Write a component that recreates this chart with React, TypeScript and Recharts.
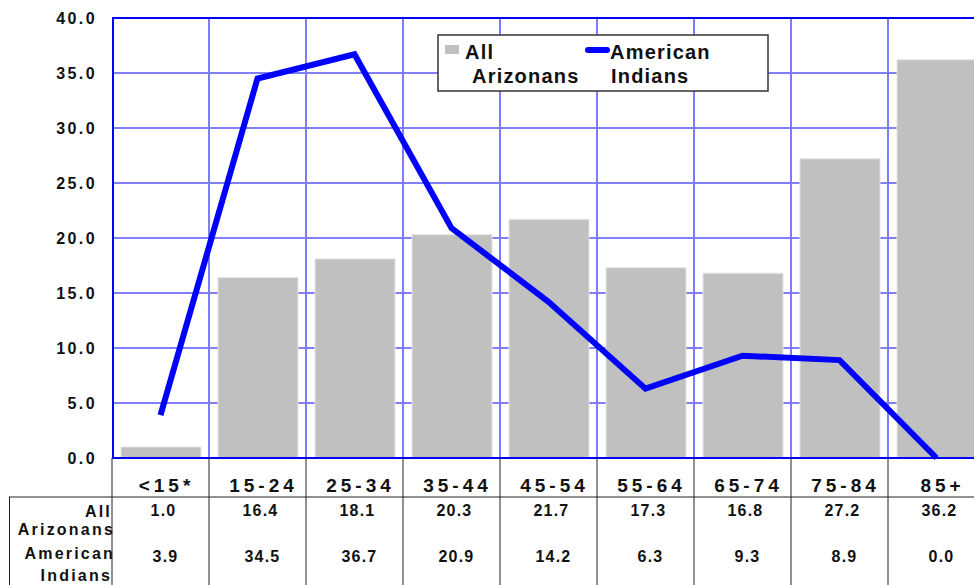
import React from "react";
import {
  Bar,
  CartesianGrid,
  ComposedChart,
  Line,
  ReferenceLine,
  XAxis,
  YAxis,
} from "recharts";

const AGE_GROUPS = ["<15*", "15-24", "25-34", "35-44", "45-54", "55-64", "65-74", "75-84", "85+"];
const ALL_ARIZONANS = [1.0, 16.4, 18.1, 20.3, 21.7, 17.3, 16.8, 27.2, 36.2];
const AMERICAN_INDIANS = [3.9, 34.5, 36.7, 20.9, 14.2, 6.3, 9.3, 8.9, 0.0];
const Y_TICKS = [0, 5, 10, 15, 20, 25, 30, 35, 40];

const SERIES_NAMES = { all: ["All", "Arizonans"], indian: ["American", "Indians"] };

const FONT = "'Liberation Sans', Arial, sans-serif";
const CHART_W = 1000;
const CHART_H = 585;
const Y_AXIS_W = 112;
const MARGIN_RIGHT = 15;
const X_AXIS_H = 127;
const PLOT_W = CHART_W - Y_AXIS_W - MARGIN_RIGHT;
const COL_W = PLOT_W / AGE_GROUPS.length;
const TABLE_LINE = "#222";

const data = AGE_GROUPS.map((group, i) => ({
  group,
  all: ALL_ARIZONANS[i],
  indian: AMERICAN_INDIANS[i],
}));

function YTick({ x, y, payload }: any) {
  return (
    <text
      x={x}
      y={y}
      dy={6}
      textAnchor="end"
      fontFamily={FONT}
      fontWeight="bold"
      fontSize={16}
      letterSpacing={2.4}
      fill="#111"
    >
      {Number(payload.value).toFixed(1)}
    </text>
  );
}

// category label plus the data table column underneath it
function XTick({ x, y, payload, index }: any) {
  const left = x - COL_W / 2;
  const textProps = {
    fontFamily: FONT,
    fontWeight: "bold" as const,
    fill: "#111",
    textAnchor: "middle" as const,
  };
  return (
    <g>
      <line x1={left} x2={left} y1={y} y2={CHART_H} stroke={TABLE_LINE} strokeWidth={1} />
      <text x={x + 6} y={y + 34} fontSize={19} letterSpacing={4} {...textProps}>
        {payload.value}
      </text>
      <text x={x + 3} y={y + 58} fontSize={16} letterSpacing={1.2} {...textProps}>
        {ALL_ARIZONANS[index].toFixed(1)}
      </text>
      <text x={x + 5} y={y + 104} fontSize={16} letterSpacing={1.2} {...textProps}>
        {AMERICAN_INDIANS[index].toFixed(1)}
      </text>
      {index === 0 ? (
        <g>
          <line x1={9} x2={CHART_W} y1={y + 39} y2={y + 39} stroke={TABLE_LINE} strokeWidth={1} />
          <line x1={9.5} x2={9.5} y1={y + 39} y2={CHART_H} stroke={TABLE_LINE} strokeWidth={1} />
          <g fontFamily={FONT} fontWeight="bold" fontSize={16} letterSpacing={2.2} fill="#111" textAnchor="end">
            <text x={left} y={y + 59}>{SERIES_NAMES.all[0]}</text>
            <text x={left + 3} y={y + 77}>{SERIES_NAMES.all[1]}</text>
            <text x={left + 3} y={y + 101}>{SERIES_NAMES.indian[0]}</text>
            <text x={left} y={y + 123}>{SERIES_NAMES.indian[1]}</text>
          </g>
        </g>
      ) : null}
    </g>
  );
}

function LegendBox() {
  const text = { fontFamily: FONT, fontWeight: "bold" as const, fontSize: 20, letterSpacing: 1.2, fill: "#111" };
  return (
    <svg
      width={332}
      height={58}
      style={{ position: "absolute", left: 437, top: 34, overflow: "visible" }}
    >
      <rect x={1} y={1} width={330} height={56} fill="#fff" stroke="#333" strokeWidth={1.5} />
      <rect x={8} y={11} width={14} height={9} fill="#c0c0c0" />
      <text x={28} y={25} {...text}>{SERIES_NAMES.all[0]}</text>
      <text x={35} y={49} {...text}>{SERIES_NAMES.all[1]}</text>
      <line x1={151} x2={170} y1={16} y2={16} stroke="#0000ff" strokeWidth={6} strokeLinecap="round" />
      <text x={173} y={25} {...text}>{SERIES_NAMES.indian[0]}</text>
      <text x={174} y={49} {...text}>{SERIES_NAMES.indian[1]}</text>
    </svg>
  );
}

export default function App() {
  const n = AGE_GROUPS.length;
  return (
    <div
      style={{
        position: "fixed",
        left: 0,
        top: 0,
        width: 974,
        height: 585,
        overflow: "hidden",
        background: "#fff",
      }}
    >
      <ComposedChart
        width={CHART_W}
        height={CHART_H}
        data={data}
        margin={{ top: 18, right: MARGIN_RIGHT, bottom: 0, left: 0 }}
        barCategoryGap={0}
      >
        <CartesianGrid vertical={false} stroke="#0000ff" strokeWidth={1} />
        <CartesianGrid
          horizontal={false}
          stroke="#7c7cff"
          strokeWidth={2}
          verticalCoordinatesGenerator={({ offset }: any) =>
            AGE_GROUPS.map((_, i) => offset.left + (i * offset.width) / n).slice(1)
          }
        />
        <CartesianGrid
          horizontal={false}
          stroke="#0000ff"
          strokeWidth={2}
          verticalCoordinatesGenerator={({ offset }: any) => [offset.left + 1]}
        />
        <XAxis
          dataKey="group"
          interval={0}
          height={X_AXIS_H}
          axisLine={false}
          tickLine={false}
          tickSize={0}
          tickMargin={0}
          tick={<XTick />}
        />
        <YAxis
          width={Y_AXIS_W}
          domain={[0, 40]}
          ticks={Y_TICKS}
          axisLine={false}
          tickLine={false}
          tickSize={0}
          tickMargin={15}
          tick={<YTick />}
        />
        <Bar
          dataKey="all"
          fill="#c0c0c0"
          stroke="#e4e4e4"
          strokeWidth={1}
          barSize={80}
          isAnimationActive={false}
        />
        <ReferenceLine y={40} stroke="#0000ff" strokeWidth={2} />
        <ReferenceLine y={0} stroke="#0000ff" strokeWidth={2} />
        <Line
          type="linear"
          dataKey="indian"
          stroke="#0000ff"
          strokeWidth={6}
          dot={false}
          activeDot={false}
          isAnimationActive={false}
        />
      </ComposedChart>
      <LegendBox />
    </div>
  );
}
